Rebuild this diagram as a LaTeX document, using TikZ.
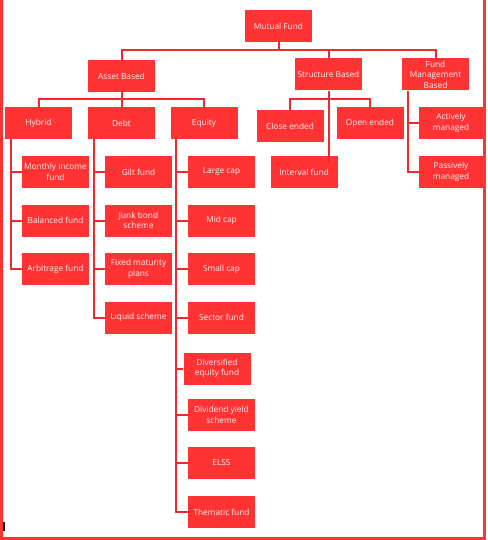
\documentclass[tikz,border=0pt]{standalone}
\usepackage{fontspec}
\setmainfont{Open Sans}
\definecolor{boxred}{HTML}{FF3333}
\definecolor{linered}{HTML}{EE2A2E}
\definecolor{txt}{HTML}{FFF2F2}
\begin{document}
\begin{tikzpicture}[x=1pt,y=-1pt,
  fbox/.style={fill=boxred,text=txt,minimum width=67pt,minimum height=32pt,inner sep=0pt,align=center,
    font=\fontsize{8.3pt}{10.6pt}\selectfont},
  conn/.style={draw=linered,line width=2pt}]
\useasboundingbox (0,0) rectangle (487,540);
% border
\draw[draw=boxred,line width=3pt] (1.5,0) -- (1.5,538.5) -- (484.5,538.5) -- (484.5,0);
\fill[black] (3,522) rectangle (5,531);
% nodes
\node[fbox] (mf) at (278.5,26) {Mutual Fund};
\node[fbox] (asset) at (121.5,76) {Asset Based};
\node[fbox] (struct) at (328.5,74.5) {Structure Based};
\node[fbox] (fmb) at (435.5,74.5) {Fund\\Management\\Based};
\node[fbox] (hybrid) at (38.5,123) {Hybrid};
\node[fbox] (debt) at (121.5,123) {Debt};
\node[fbox] (equity) at (204,123) {Equity};
\node[fbox] (mif) at (55.5,172) {Monthly income\\fund};
\node[fbox] (bal) at (55.5,220.5) {Balanced fund};
\node[fbox] (arb) at (55.5,269) {Arbitrage fund};
\node[fbox] (gilt) at (138.5,172) {Gilt fund};
\node[fbox] (junk) at (138.5,220.5) {Junk bond\\scheme};
\node[fbox] (fmp) at (138.5,269) {Fixed maturity\\plans};
\node[fbox] (liquid) at (138.5,317.5) {Liquid scheme};
\node[fbox] (large) at (221.5,172) {Large cap};
\node[fbox] (mid) at (221.5,220.5) {Mid cap};
\node[fbox] (small) at (221.5,269) {Small cap};
\node[fbox] (sector) at (221.5,317.5) {Sector fund};
\node[fbox] (div) at (217,368.5) {Diversified\\equity fund};
\node[fbox] (divy) at (221.5,415) {Dividend yield\\scheme};
\node[fbox] (elss) at (221.5,463) {ELSS};
\node[fbox] (them) at (221.5,512) {Thematic fund};
\node[fbox] (close) at (290,126) {Close ended};
\node[fbox] (open) at (370,123) {Open ended};
\node[fbox] (interval) at (304,172) {Interval fund};
\node[fbox,minimum width=64pt] (active) at (451,123) {Actively\\managed};
\node[fbox,minimum width=64pt] (passive) at (451,172) {Passively\\managed};
% level 1
\draw[conn] (asset.north) -- ++(0,-10) -| (fmb.north);
\draw[conn] (mf.south) -- ++(0,8);
\draw[conn] (struct.north) -- ++(0,-8);
% asset based
\draw[conn] (hybrid.north) -- ++(0,-8) -| (equity.north);
\draw[conn] (asset.south) -- (debt.north);
% hybrid
\draw[conn] ([xshift=6pt]hybrid.south west) |- (arb.west);
\draw[conn] ([xshift=6pt]hybrid.south west |- mif.west) -- (mif.west);
\draw[conn] ([xshift=6pt]hybrid.south west |- bal.west) -- (bal.west);
% debt
\draw[conn] ([xshift=6pt]debt.south west) |- (liquid.west);
\draw[conn] ([xshift=6pt]debt.south west |- gilt.west) -- (gilt.west);
\draw[conn] ([xshift=6pt]debt.south west |- junk.west) -- (junk.west);
\draw[conn] ([xshift=6pt]debt.south west |- fmp.west) -- (fmp.west);
% equity
\draw[conn] ([xshift=6pt]equity.south west) |- (them.west);
\foreach \n in {large,mid,small,sector,div,divy,elss}
  \draw[conn] ([xshift=6pt]equity.south west |- \n.west) -- (\n.west);
% structure based
\draw[conn] (close.north) -- ++(0,-11) -| (open.north);
\draw[conn] (struct.south) -- ([yshift=-6pt]struct.south |- interval.north);
% fund management
\draw[conn] ([xshift=6pt]fmb.south west) |- (passive.west);
\draw[conn] ([xshift=6pt]fmb.south west |- active.west) -- (active.west);
\end{tikzpicture}
\end{document}
